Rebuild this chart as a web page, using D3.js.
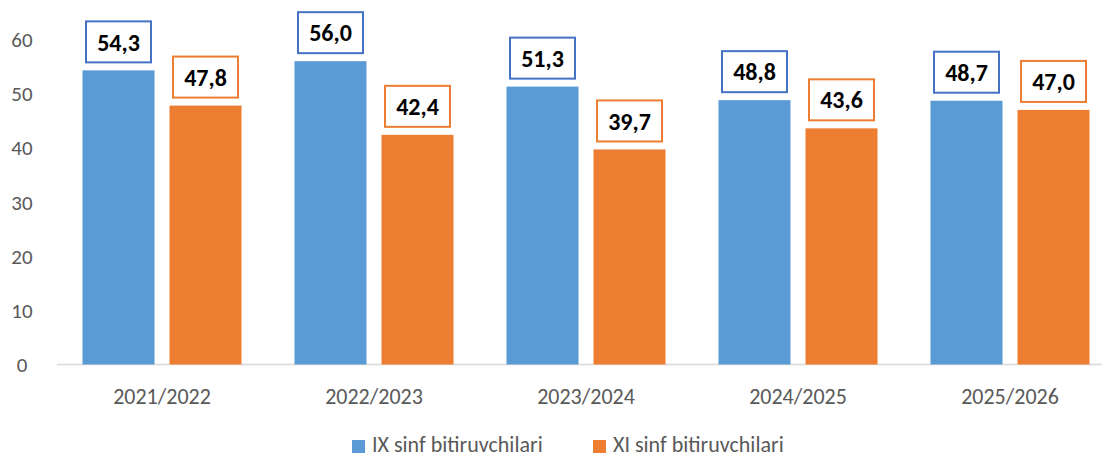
<!DOCTYPE html>
<html><head><meta charset="utf-8">
<script src="https://cdn.jsdelivr.net/npm/d3@7"></script>
<style>body{margin:0;background:#fff}svg{display:block}text{font-family:Calibri,Carlito,Lato,"Open Sans",sans-serif}</style>
</head><body><svg id="c" width="1102" height="457"></svg>
<script>
const categories = ["2021/2022","2022/2023","2023/2024","2024/2025","2025/2026"];
const seriesNames = ["IX sinf bitiruvchilari","XI sinf bitiruvchilari"];
const ixValues = [54.3,56.0,51.3,48.8,48.7];
const xiValues = [47.8,42.4,39.7,43.6,47.0];
const yTicks = [0,10,20,30,40,50,60];
const colors = ["#5B9BD5","#ED7D31"];
const borders = ["#4472C4","#ED7D31"];

const svg = d3.select("#c");
const W = 1102;
const x = d3.scaleBand().domain(categories).range([56,1116]).paddingInner(0).paddingOuter(0);
const xs = d3.scaleBand().domain([0,1]).range([26.5, 212-26.5]).paddingInner(0.1724);
const y = d3.scaleLinear().domain([0,60]).range([364.5,39.5]);

// y tick labels
svg.append("g").selectAll("text").data(yTicks).join("text")
  .attr("x",22).attr("y",d=>y(d)).attr("dy","0.36em").attr("text-anchor","middle")
  .attr("font-size",21).attr("fill","#595959").text(d=>d);

// baseline
svg.append("line").attr("x1",57).attr("x2",W).attr("y1",y(0)).attr("y2",y(0))
  .attr("stroke","#D9D9D9").attr("stroke-width",1.5);

const data = [];
categories.forEach((c,i)=>{
  [ixValues[i],xiValues[i]].forEach((v,s)=>data.push({c,s,v}));
});

const g = svg.append("g");
g.selectAll("rect.bar").data(data).join("rect").attr("class","bar")
  .attr("x",d=>x(d.c)+xs(d.s)).attr("width",xs.bandwidth())
  .attr("y",d=>y(d.v)).attr("height",d=>y(0)-y(d.v)).attr("fill",d=>colors[d.s]);

const fmt = v => v.toFixed(1).replace(".",",");
const bw = 65, bh = 41;
const lab = g.selectAll("g.lab").data(data).join("g").attr("class","lab")
  .attr("transform",d=>`translate(${x(d.c)+xs(d.s)+xs.bandwidth()/2},${y(d.v)-8-bh/2})`);
lab.append("rect").attr("x",-bw/2).attr("y",-bh/2).attr("width",bw).attr("height",bh)
  .attr("fill","#fff").attr("stroke",d=>borders[d.s]).attr("stroke-width",2);
lab.append("text").attr("text-anchor","middle").attr("dy","0.36em")
  .attr("font-size",24).attr("font-weight","bold").attr("fill","#000").text(d=>fmt(d.v));

// x labels
svg.append("g").selectAll("text").data(categories).join("text")
  .attr("x",d=>x(d)+x.bandwidth()/2).attr("y",396).attr("dy","0.36em").attr("text-anchor","middle")
  .attr("font-size",22).attr("fill","#595959").text(d=>d);

// legend
const leg = svg.append("g");
const legX = [352, 593];
seriesNames.forEach((n,i)=>{
  leg.append("rect").attr("x",legX[i]).attr("y",440).attr("width",13).attr("height",13).attr("fill",colors[i]);
  leg.append("text").attr("x",legX[i]+20).attr("y",452)
    .attr("font-size",22).attr("fill","#595959").text(n);
});
</script></body></html>
